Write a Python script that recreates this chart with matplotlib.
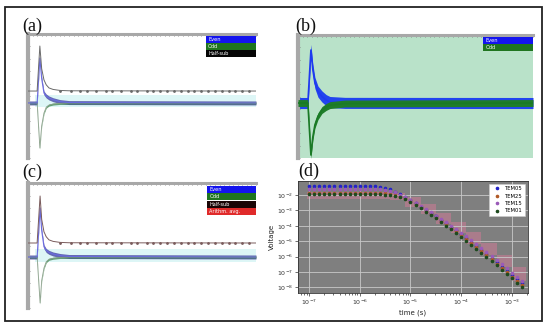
import matplotlib
matplotlib.use("Agg")
import matplotlib.pyplot as plt
from matplotlib.patches import Rectangle
import numpy as np

# ---------------- data ----------------
# panel (a): oscilloscope-like traces (arbitrary units, x 0..100, y 0..1)
a_x = [0, 4.0, 5.2, 6.0, 7.0, 8.0, 9.2, 11, 14, 18, 100]
a_even = [0.444, 0.444, 0.806, 0.64, 0.524, 0.50, 0.484, 0.47, 0.455, 0.447, 0.444]
a_odd = [0.444, 0.444, 0.08, 0.26, 0.363, 0.41, 0.427, 0.435, 0.44, 0.443, 0.444]
a_half = [0.54, 0.54, 0.903, 0.72, 0.63, 0.59, 0.565, 0.553, 0.545, 0.542, 0.54]
a_marks = [14, 19, 23, 26, 30, 34, 37, 41, 45, 48, 52, 55, 58, 61, 64, 67, 70, 73,
           76, 79, 82, 85, 88, 91, 94, 97]

# panel (b)
b_x = [0, 4.2, 5.5, 6.3, 7.2, 8.5, 10.2, 12, 13.6, 20, 100]
b_even = [0.447, 0.447, 0.878, 0.72, 0.61, 0.54, 0.50, 0.47, 0.455, 0.448, 0.447]
b_odd = [0.447, 0.447, 0.024, 0.17, 0.27, 0.34, 0.39, 0.415, 0.43, 0.443, 0.447]

# panel (c)
c_x = [0, 4.0, 5.3, 6.0, 7.0, 8.0, 9.2, 11, 14, 18, 100]
c_even = [0.408, 0.408, 0.80, 0.62, 0.49, 0.46, 0.445, 0.432, 0.42, 0.412, 0.408]
c_odd = [0.408, 0.408, 0.04, 0.22, 0.32, 0.37, 0.39, 0.398, 0.404, 0.407, 0.408]
c_half = [0.52, 0.52, 0.896, 0.71, 0.61, 0.57, 0.545, 0.533, 0.525, 0.522, 0.52]

legend_a = ["Even", "Odd", "Half-sub"]
legend_b = ["Even", "Odd"]
legend_c = ["Even", "Odd", "Half-sub", "Arithm. avg."]

# panel (d): TEM soundings, log10(time) and log10(voltage)
log_t = [-7.0, -6.9, -6.8, -6.7, -6.6, -6.5, -6.4, -6.3, -6.2, -6.1, -6.0, -5.9, -5.8,
         -5.7, -5.6, -5.5, -5.4, -5.3, -5.2, -5.1, -5.0, -4.9, -4.8, -4.7, -4.6, -4.5,
         -4.4, -4.3, -4.2, -4.1, -4.0, -3.9, -3.8, -3.7, -3.6, -3.5, -3.4, -3.3, -3.2,
         -3.1, -3.0, -2.9, -2.8]
tem05 = [-1.42, -1.42, -1.42, -1.42, -1.42, -1.42, -1.42, -1.42, -1.42, -1.42, -1.42, -1.42, -1.42,
         -1.43, -1.46, -1.52, -1.63, -1.78, -1.95, -2.14, -2.34, -2.55, -2.76, -2.97, -3.18, -3.39,
         -3.61, -3.83, -4.06, -4.29, -4.53, -4.78, -5.04, -5.30, -5.56, -5.83, -6.10, -6.37, -6.64,
         -6.91, -7.18, -7.45, -7.72]
tem25 = [-1.86, -1.86, -1.86, -1.86, -1.86, -1.86, -1.86, -1.86, -1.86, -1.86, -1.86, -1.86, -1.86,
         -1.86, -1.87, -1.88, -1.92, -1.99, -2.09, -2.22, -2.38, -2.58, -2.79, -3.00, -3.22, -3.44,
         -3.66, -3.89, -4.12, -4.36, -4.60, -4.85, -5.11, -5.37, -5.64, -5.91, -6.18, -6.45, -6.73,
         -7.01, -7.29, -7.57, -7.85]
tem15 = [-1.62, -1.62, -1.62, -1.62, -1.62, -1.62, -1.62, -1.62, -1.62, -1.62, -1.62, -1.62, -1.62,
         -1.62, -1.63, -1.66, -1.72, -1.82, -1.97, -2.14, -2.33, -2.53, -2.73, -2.93, -3.13, -3.34,
         -3.55, -3.77, -3.99, -4.21, -4.44, -4.68, -4.93, -5.18, -5.44, -5.70, -5.96, -6.22, -6.49,
         -6.76, -7.03, -7.30, -7.57]
tem01 = [-1.96, -1.96, -1.96, -1.96, -1.96, -1.96, -1.96, -1.96, -1.96, -1.96, -1.96, -1.96, -1.96,
         -1.96, -1.96, -1.97, -2.00, -2.06, -2.15, -2.28, -2.44, -2.64, -2.85, -3.07, -3.29, -3.52,
         -3.75, -3.98, -4.22, -4.46, -4.71, -4.96, -5.22, -5.48, -5.75, -6.02, -6.29, -6.57, -6.85,
         -7.13, -7.41, -7.69, -7.97]
tem_labels = ["TEM05", "TEM25", "TEM15", "TEM01"]
# gate boxes (log10 t start, log10 t end, log10 V low, log10 V high)
gate_t0 = [-7.05, -5.4, -5.1, -4.8, -4.5, -4.2, -3.9, -3.6, -3.3, -3.0]
gate_t1 = [-5.4, -5.1, -4.8, -4.5, -4.2, -3.9, -3.6, -3.3, -3.0, -2.72]
gate_v0 = [-2.28, -2.30, -2.75, -3.25, -3.85, -4.45, -5.15, -5.90, -6.70, -7.60]
gate_v1 = [-1.80, -1.85, -2.15, -2.60, -3.15, -3.75, -4.40, -5.10, -5.90, -6.70]

# ---------------- figure ----------------
W, H = 550, 328
fig = plt.figure(figsize=(5.5, 3.28), dpi=100)
fig.patch.set_facecolor("white")


def px_axes(x0, y0, x1, y1):
    return fig.add_axes([x0 / W, 1 - y1 / H, (x1 - x0) / W, (y1 - y0) / H])


fig.add_artist(Rectangle((5 / W, 1 - 321 / H), 537 / W, 314 / H, transform=fig.transFigure,
                         fill=False, lw=1.3, ec="#222222"))

serif = ["Liberation Serif", "DejaVu Serif"]
for lab, x, y in [("(a)", 22, 26), ("(b)", 295, 26), ("(c)", 22, 172), ("(d)", 298, 171)]:
    fig.text(x / W, 1 - y / H, lab, fontsize=13, family=serif, va="center", ha="left", color="#111")


def scope(ax, bg):
    ax.set_facecolor(bg)
    ax.set_xlim(0, 100)
    ax.set_ylim(0, 1)
    for s in ["right", "bottom"]:
        ax.spines[s].set_visible(False)
    ax.spines["top"].set_color("#a8a8a8")
    ax.spines["top"].set_linewidth(2.2)
    ax.spines["left"].set_color("#a8a8a8")
    ax.spines["left"].set_linewidth(3)
    ax.xaxis.tick_top()
    ax.set_xticks(np.arange(0, 101, 10))
    ax.set_xticks(np.arange(0, 101, 2), minor=True)
    ax.set_yticks(np.arange(0, 1.01, 0.1))
    ax.tick_params(axis="both", which="both", direction="in", length=1.5, width=0.5,
                   color="#6a6a6a", labeltop=False, labelleft=False, labelbottom=False,
                   bottom=False, right=False)


def scope_legend(ax, x0, top, h, labels, colors):
    for i, (lab, col) in enumerate(zip(labels, colors)):
        ax.add_patch(Rectangle((x0, top - (i + 1) * h), 1 - x0, h, transform=ax.transAxes,
                               fc=col, ec="none", clip_on=False, zorder=10))
        ax.text(x0 + 0.01, top - (i + 0.5) * h, lab, transform=ax.transAxes, color="white",
                fontsize=3.6, va="center", ha="left", zorder=11)


def scope_traces(ax, x, even, odd, half, half_col, cyan_y):
    ax.add_patch(Rectangle((3, cyan_y), 97, 0.10, fc="#ddf6f6", ec="none", zorder=0))
    ax.fill_between(x, np.array(even) - 0.016, np.array(even) + 0.016, color="#3c3c9c",
                    alpha=0.75, lw=0, zorder=2)
    ax.fill_between(x, np.array(odd) - 0.008, np.array(odd) + 0.008, color="#2e7a3e",
                    alpha=0.7, lw=0, zorder=2)
    ax.plot(x, odd, color="#8aa08a", lw=0.6, zorder=3)
    ax.plot(x, even, color="#6a6ae0", lw=0.8, zorder=3)
    ax.plot(x, half, color=half_col, lw=0.7, zorder=4)
    ax.plot(a_marks, [half[-1]] * len(a_marks), ls="none", marker="o", ms=1.0,
            color=half_col, zorder=4)


# ---- (a)
ax = px_axes(28, 34, 256, 158)
scope(ax, "white")
scope_traces(ax, a_x, a_even, a_odd, a_half, "#6a6a6a", 0.41)
scope_legend(ax, 0.78, 0.984, 0.056, legend_a, ["#1414ee", "#1f751f", "#050505"])

# ---- (b)
ax = px_axes(298, 35, 533, 158)
scope(ax, "#b9e2c9")
ax.fill_between(b_x, np.array(b_even) - 0.045, np.array(b_even) + 0.045, color="#2244ee",
                lw=0, zorder=2)
ax.fill_between(b_x, np.array(b_odd) - 0.028, np.array(b_odd) + 0.028, color="#1f7d2a",
                lw=0, zorder=3)
ax.plot(b_x, b_even, color="#1e3af0", lw=1.2, zorder=2)
ax.plot(b_x, b_odd, color="#1a7a26", lw=1.2, zorder=3)
scope_legend(ax, 0.787, 0.984, 0.057, legend_b, ["#1414ee", "#1f751f"])

# ---- (c)
ax = px_axes(28, 183, 256, 308)
scope(ax, "white")
scope_traces(ax, c_x, c_even, c_odd, c_half, "#7a5c5c", 0.37)
scope_legend(ax, 0.785, 0.976, 0.058, legend_c, ["#1414ee", "#1f751f", "#1a0606", "#e02a2a"])

# ---- (d)
ax = px_axes(298, 181, 528, 293)
ax.set_facecolor("#7f7f7f")
ax.set_xscale("log")
ax.set_yscale("log")
for t0, t1, v0, v1 in zip(gate_t0, gate_t1, gate_v0, gate_v1):
    ax.add_patch(Rectangle((10 ** t0, 10 ** v0), 10 ** t1 - 10 ** t0, 10 ** v1 - 10 ** v0,
                           fc="#e07a9a", ec="none", alpha=0.45, zorder=1))
t = 10 ** np.array(log_t)
cols = ["#2222c8", "#b05a28", "#9a5ab8", "#1e4a1e"]
for vals, lab, c in zip([tem05, tem25, tem15, tem01], tem_labels, cols):
    ax.plot(t, 10 ** np.array(vals), ls="none", marker="o", ms=1.6, color=c, label=lab, zorder=3)
ax.set_xlim(10 ** -7.22, 10 ** -2.68)
ax.set_ylim(10 ** -8.36, 10 ** -1.09)
ax.set_yticks([1e-2, 1e-3, 1e-4, 1e-5, 1e-6, 1e-7, 1e-8])
ax.yaxis.set_minor_locator(matplotlib.ticker.NullLocator())
ax.grid(True, which="major", color="#c8c8c8", lw=0.6)
ax.tick_params(labelsize=4.5, length=2, width=0.5, colors="#333", pad=1.5)
ax.tick_params(which="minor", length=1.2, width=0.4)
for s in ax.spines.values():
    s.set_color("#333")
    s.set_linewidth(0.6)
ax.set_xlabel("time (s)", fontsize=5, labelpad=1.5, color="#222")
ax.set_ylabel("Voltage", fontsize=5, labelpad=1.5, color="#222")
leg = ax.legend(loc="upper right", fontsize=3.8, markerscale=1.0, handletextpad=0.6,
                borderpad=0.5, labelspacing=0.45, framealpha=1, fancybox=False)
leg.get_frame().set_linewidth(0.4)

fig.savefig("out.png", dpi=100)
